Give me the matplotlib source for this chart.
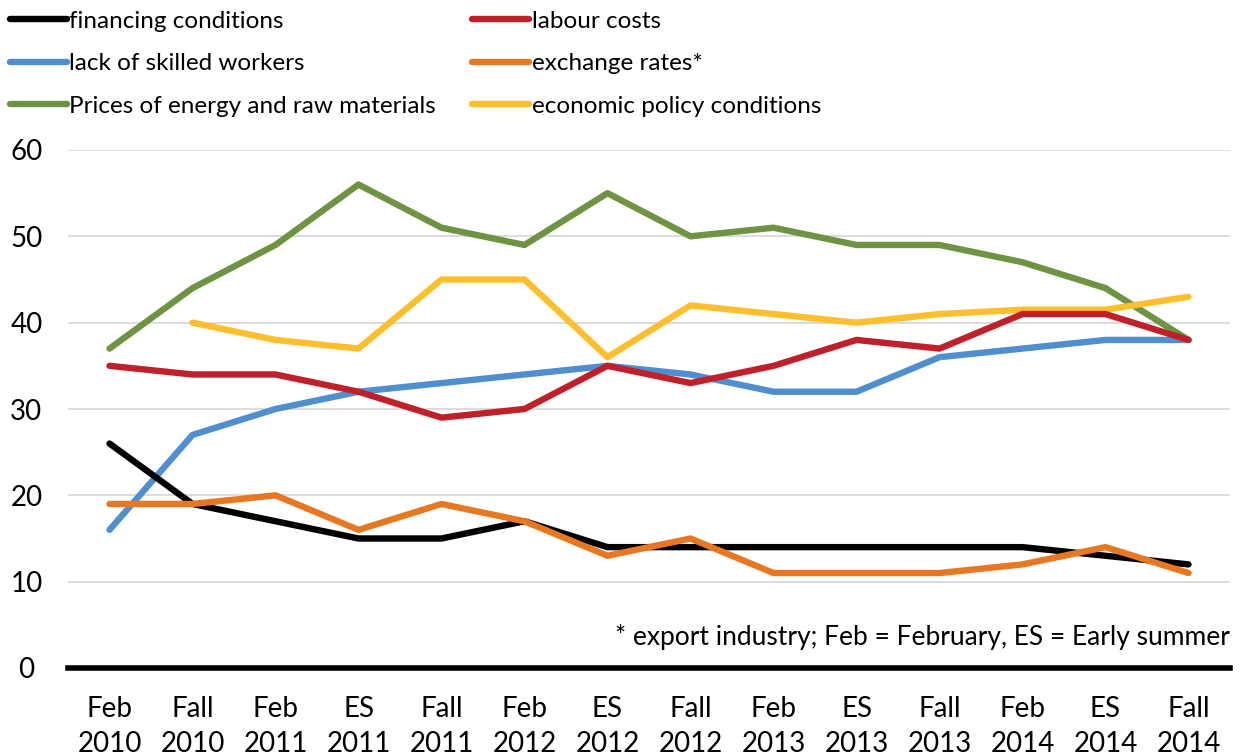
import matplotlib
matplotlib.use("Agg")
import matplotlib.pyplot as plt
import numpy as np

periods = ["Feb\n2010", "Fall\n2010", "Feb\n2011", "ES\n2011", "Fall\n2011", "Feb\n2012", "ES\n2012",
           "Fall\n2012", "Feb\n2013", "ES\n2013", "Fall\n2013", "Feb\n2014", "ES\n2014", "Fall\n2014"]
financing = [26, 19, 17, 15, 15, 17, 14, 14, 14, 14, 14, 14, 13, 12]
labour = [35, 34, 34, 32, 29, 30, 35, 33, 35, 38, 37, 41, 41, 38]
skilled = [16, 27, 30, 32, 33, 34, 35, 34, 32, 32, 36, 37, 38, 38]
exchange = [19, 19, 20, 16, 19, 17, 13, 15, 11, 11, 11, 12, 14, 11]
energy = [37, 44, 49, 56, 51, 49, 55, 50, 51, 49, 49, 47, 44, 38]
policy = [np.nan, 40, 38, 37, 45, 45, 36, 42, 41, 40, 41, 41.5, 41.5, 43]
yticks = [0, 10, 20, 30, 40, 50, 60]

plt.rcParams['font.family'] = ['Lato', 'DejaVu Sans']

fig = plt.figure(figsize=(12.42, 7.56), dpi=100)
ax = fig.add_axes([68/1242, (756-668)/756, (1230-68)/1242, (668-150)/756])

x = np.arange(len(periods))
lw = 4.6
series = [
    ("financing conditions", financing, "#000000"),
    ("lack of skilled workers", skilled, "#4f8fd0"),
    ("Prices of energy and raw materials", energy, "#6e9443"),
    ("labour costs", labour, "#c0202a"),
    ("exchange rates*", exchange, "#e87722"),
    ("economic policy conditions", policy, "#fdbf2d"),
]
draw_order = ["Prices of energy and raw materials", "economic policy conditions", "lack of skilled workers",
              "labour costs", "financing conditions", "exchange rates*"]
handles = {}
for name in draw_order:
    for n, v, c in series:
        if n == name:
            ln, = ax.plot(x, v, color=c, lw=lw, solid_capstyle='round', solid_joinstyle='round', label=n)
            handles[n] = ln

ax.set_xlim(-0.5, len(periods) - 0.5)
ax.set_ylim(0, 60)
ax.set_yticks(yticks)
ax.set_xticks(x)
ax.set_xticklabels(periods, fontsize=20, linespacing=1.45)
ax.tick_params(axis='y', labelsize=20, length=0, pad=30)
ax.tick_params(axis='x', length=0, pad=20)
for lab in ax.get_yticklabels():
    lab.set_horizontalalignment('center')
ax.grid(axis='y', color='#d9d9d9', lw=1.3)
ax.set_axisbelow(True)
for s in ax.spines.values():
    s.set_visible(False)
ax.axhline(0, color='black', lw=4, zorder=5, clip_on=False)

ax.text(1.0, 0.06, "* export industry; Feb = February, ES = Early summer", transform=ax.transAxes,
        ha='right', va='center', fontsize=19)

order = [s[0] for s in series]
fig.legend([handles[n] for n in order], order, ncol=2, loc='upper left',
           bbox_to_anchor=(-0.006, 1.008), frameon=False, fontsize=17.5, handlelength=2.35,
           handletextpad=0.1, columnspacing=1.5, labelspacing=0.88, borderaxespad=0.3)

fig.savefig("out.png", dpi=100)
